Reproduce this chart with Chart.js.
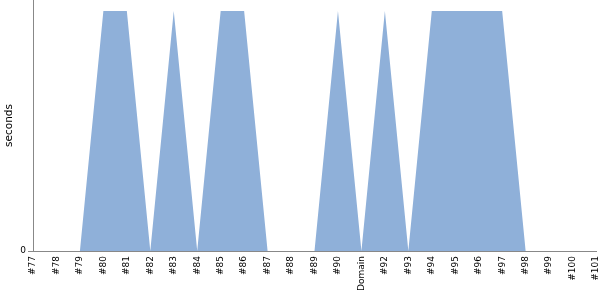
<!DOCTYPE html>
<html lang="en">
<head>
    <meta charset="UTF-8">
    <title>Domain seconds</title>
    <script src="https://cdn.jsdelivr.net/npm/chart.js@4/dist/chart.umd.min.js"></script>
    <style>
        html, body { margin: 0; padding: 0; background: #fff; }
        .wrap { width: 600px; height: 300px; }
    </style>
</head>
<body>
    <div class="wrap"><canvas id="myChart" width="600" height="300"></canvas></div>

    <script>
        const domains = ['#77', '#78', '#79', '#80', '#81', '#82', '#83', '#84', '#85', '#86', '#87', '#88', '#89',
                         '#90', '#91', '#92', '#93', '#94', '#95', '#96', '#97', '#98', '#99', '#100', '#101'];
        const seconds = [0, 0, 0, 1, 1, 0, 1, 0, 1, 1, 0, 0, 0,
                         1, 0, 1, 0, 1, 1, 1, 1, 0, 0, 0, 0];
        const xTitle = 'Domain';
        const yTitle = 'seconds';

        Chart.defaults.font.family = "'DejaVu Sans', sans-serif";
        Chart.defaults.color = '#000';

        var ctx = document.getElementById('myChart').getContext('2d');
        var myChart = new Chart(ctx, {
            type: 'line',
            data: {
                labels: domains,
                datasets: [{
                    label: yTitle,
                    data: seconds,
                    fill: 'origin',
                    backgroundColor: 'rgb(143, 176, 217)',
                    borderWidth: 0,
                    pointRadius: 0,
                    tension: 0
                }]
            },
            options: {
                responsive: false,
                animation: false,
                layout: { padding: { top: 0, right: 4, left: 0, bottom: 0 } },
                plugins: {
                    legend: { display: false },
                    tooltip: { enabled: false }
                },
                scales: {
                    x: {
                        offset: false,
                        grid: { display: false, drawTicks: false },
                        border: { display: true, color: '#888' },
                        ticks: {
                            autoSkip: false,
                            maxRotation: 90,
                            minRotation: 90,
                            padding: 5,
                            font: { size: 9 },
                            // the axis title sits in the middle slot, like the original
                            callback: function (value, index) {
                                return index === Math.floor(domains.length / 2) + 2 ? xTitle : domains[index];
                            }
                        },
                        afterFit: function (scale) {
                            scale.height = 49;
                            scale.paddingLeft = 0;
                            scale.paddingRight = 0;
                        }
                    },
                    y: {
                        min: 0,
                        max: 1.046,
                        grid: { drawOnChartArea: false, tickLength: 5, color: '#888' },
                        border: { display: true, color: '#888' },
                        ticks: {
                            padding: 2,
                            font: { size: 9 },
                            callback: function (value) { return value === 0 ? '0' : null; }
                        },
                        title: {
                            display: true,
                            text: yTitle,
                            font: { size: 10.5 },
                            padding: { top: 3, bottom: 0 }
                        },
                        afterFit: function (scale) {
                            scale.width = 33;
                            scale.paddingTop = 0;
                            scale.paddingBottom = 0;
                        }
                    }
                }
            }
        });
    </script>
</body>
</html>
